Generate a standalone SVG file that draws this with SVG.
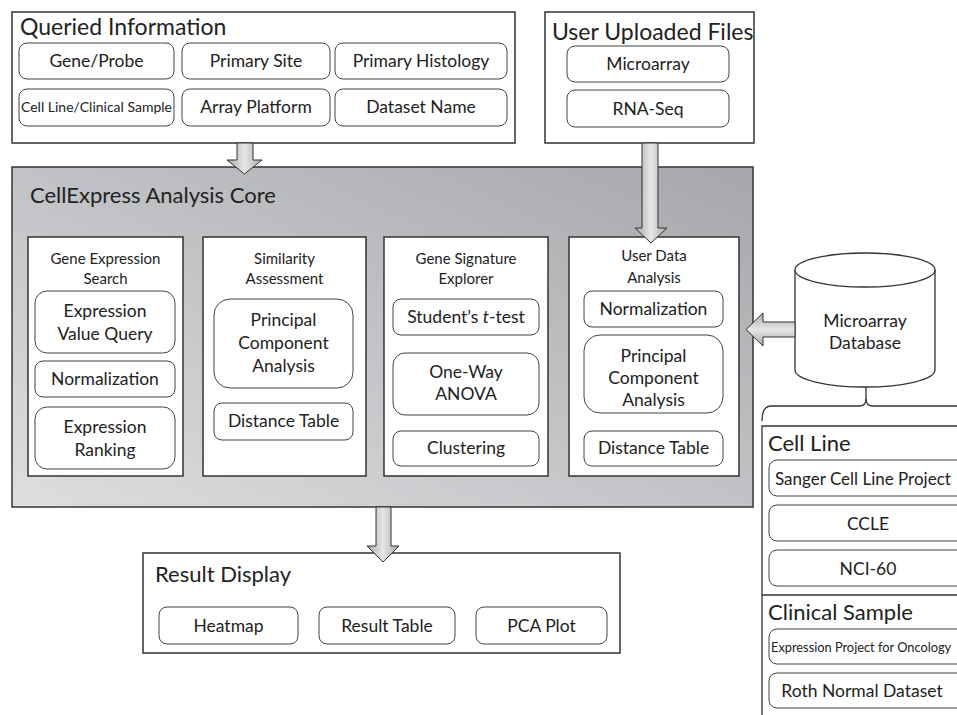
<svg xmlns="http://www.w3.org/2000/svg" width="957" height="715" viewBox="0 0 957 715">
  <defs>
    <linearGradient id="coreFill" x1="1" y1="0" x2="0" y2="1">
      <stop offset="0" stop-color="#a6a7aa"/>
      <stop offset="1" stop-color="#dddee0"/>
    </linearGradient>
    <linearGradient id="arrowV" x1="0" y1="0" x2="1" y2="0">
      <stop offset="0" stop-color="#a9a9ab"/>
      <stop offset="0.5" stop-color="#e6e6e7"/>
      <stop offset="1" stop-color="#a9a9ab"/>
    </linearGradient>
    <linearGradient id="arrowH" x1="0" y1="0" x2="0" y2="1">
      <stop offset="0" stop-color="#a9a9ab"/>
      <stop offset="0.5" stop-color="#e6e6e7"/>
      <stop offset="1" stop-color="#a9a9ab"/>
    </linearGradient>
  </defs>
  <style>
    .frame { fill: #fff; stroke: #333; stroke-width: 1.5; }
    .item { fill: #fff; stroke: #444; stroke-width: 1; }
    .arrow { stroke: #333; stroke-width: 1; }
    .line { fill: none; stroke: #333; stroke-width: 1.3; }
    text { font-family: Lato, "Open Sans", sans-serif; fill: #222; }
    .h1 { font-size: 22px; }
    .h2 { font-size: 15px; text-anchor: middle; }
    .t { font-size: 17.5px; text-anchor: middle; }
    .s { font-size: 14px; text-anchor: middle; }
  </style>

  <!-- Queried Information -->
  <g id="queried-information">
    <rect class="frame" x="12" y="12" width="503" height="131"/>
    <text class="h1" x="20" y="35" style="font-size:23px">Queried Information</text>
    <rect class="item" x="19" y="43" width="155" height="36" rx="8"/>
    <text class="t" x="96.5" y="67">Gene/Probe</text>
    <rect class="item" x="182" y="43" width="148" height="36" rx="8"/>
    <text class="t" x="256" y="67">Primary Site</text>
    <rect class="item" x="335" y="43" width="172" height="36" rx="8"/>
    <text class="t" x="421" y="67">Primary Histology</text>
    <rect class="item" x="19" y="89" width="155" height="37" rx="8"/>
    <text class="s" x="96.5" y="112">Cell Line/Clinical Sample</text>
    <rect class="item" x="182" y="89" width="148" height="37" rx="8"/>
    <text class="t" x="256" y="113">Array Platform</text>
    <rect class="item" x="335" y="89" width="172" height="37" rx="8"/>
    <text class="t" x="421" y="113">Dataset Name</text>
  </g>

  <!-- User Uploaded Files -->
  <g id="user-uploaded-files">
    <rect class="frame" x="545" y="12" width="209" height="131"/>
    <text class="h1" x="552" y="40" style="font-size:23px">User Uploaded Files</text>
    <rect class="item" x="567" y="46" width="162" height="36" rx="8"/>
    <text class="t" x="648" y="70">Microarray</text>
    <rect class="item" x="567" y="90" width="162" height="37" rx="8"/>
    <text class="t" x="648" y="115">RNA-Seq</text>
  </g>

  <!-- CellExpress Analysis Core -->
  <g id="analysis-core">
    <rect x="12" y="167" width="741" height="340" fill="url(#coreFill)" stroke="#333" stroke-width="1.5"/>
    <text class="h1" x="30" y="203">CellExpress Analysis Core</text>
  </g>

  <g id="gene-expression-search">
    <rect class="frame" x="28" y="237" width="155" height="239"/>
    <text class="h2" x="105.5" y="264">Gene Expression</text>
    <text class="h2" x="105.5" y="284">Search</text>
    <rect class="item" x="35" y="291" width="140" height="62" rx="12"/>
    <text class="t" x="105" y="317">Expression</text>
    <text class="t" x="105" y="340">Value Query</text>
    <rect class="item" x="35" y="361" width="140" height="36" rx="8"/>
    <text class="t" x="105" y="385">Normalization</text>
    <rect class="item" x="35" y="407" width="140" height="62" rx="12"/>
    <text class="t" x="105" y="433">Expression</text>
    <text class="t" x="105" y="456">Ranking</text>
  </g>

  <g id="similarity-assessment">
    <rect class="frame" x="203" y="237" width="163" height="239"/>
    <text class="h2" x="284.5" y="264">Similarity</text>
    <text class="h2" x="284.5" y="284">Assessment</text>
    <rect class="item" x="214" y="299" width="139" height="89" rx="16"/>
    <text class="t" x="283.5" y="326">Principal</text>
    <text class="t" x="283.5" y="349">Component</text>
    <text class="t" x="283.5" y="372">Analysis</text>
    <rect class="item" x="214" y="403" width="139" height="37" rx="8"/>
    <text class="t" x="283.5" y="427">Distance Table</text>
  </g>

  <g id="gene-signature-explorer">
    <rect class="frame" x="384" y="237" width="164" height="239"/>
    <text class="h2" x="466" y="264">Gene Signature</text>
    <text class="h2" x="466" y="284">Explorer</text>
    <rect class="item" x="393" y="299" width="146" height="36" rx="8"/>
    <text class="t" x="466" y="323">Student’s <tspan font-style="italic">t</tspan>-test</text>
    <rect class="item" x="393" y="353" width="146" height="62" rx="12"/>
    <text class="t" x="466" y="378">One-Way</text>
    <text class="t" x="466" y="400">ANOVA</text>
    <rect class="item" x="393" y="431" width="146" height="35" rx="8"/>
    <text class="t" x="466" y="454">Clustering</text>
  </g>

  <g id="user-data-analysis">
    <rect class="frame" x="569" y="237" width="170" height="239"/>
    <text class="h2" x="654" y="261">User Data</text>
    <text class="h2" x="654" y="283">Analysis</text>
    <rect class="item" x="584" y="291" width="139" height="36" rx="8"/>
    <text class="t" x="653.5" y="315">Normalization</text>
    <rect class="item" x="584" y="335" width="139" height="78" rx="16"/>
    <text class="t" x="653.5" y="362">Principal</text>
    <text class="t" x="653.5" y="384">Component</text>
    <text class="t" x="653.5" y="406">Analysis</text>
    <rect class="item" x="584" y="431" width="139" height="35" rx="8"/>
    <text class="t" x="653.5" y="454">Distance Table</text>
  </g>

  <!-- Microarray Database -->
  <g id="microarray-database">
    <path d="M795,270 L795,370 A70,17 0 0 0 935,370 L935,270" fill="#fff" stroke="#333" stroke-width="1.3"/>
    <ellipse cx="865" cy="270" rx="70" ry="17" fill="#fff" stroke="#333" stroke-width="1.3"/>
    <text class="t" x="865" y="327">Microarray</text>
    <text class="t" x="865" y="349">Database</text>
  </g>

  <!-- Result Display -->
  <g id="result-display">
    <rect class="frame" x="143" y="553" width="477" height="100"/>
    <text class="h1" x="155" y="582">Result Display</text>
    <rect class="item" x="159" y="607" width="139" height="37" rx="8"/>
    <text class="t" x="228.5" y="632">Heatmap</text>
    <rect class="item" x="319" y="607" width="136" height="37" rx="8"/>
    <text class="t" x="387" y="632">Result Table</text>
    <rect class="item" x="476" y="607" width="131" height="37" rx="8"/>
    <text class="t" x="541.5" y="632">PCA Plot</text>
  </g>

  <!-- Data sources -->
  <g id="cell-line">
    <path class="line" d="M762,715 L762,426 L960,426"/>
    <text class="h1" x="768" y="451">Cell Line</text>
    <rect class="item" x="769" y="460" width="198" height="36" rx="8"/>
    <text x="775" y="485" style="font-size:17px">Sanger Cell Line Project</text>
    <rect class="item" x="769" y="505" width="198" height="36" rx="8"/>
    <text class="t" x="868" y="530">CCLE</text>
    <rect class="item" x="769" y="550" width="198" height="36" rx="8"/>
    <text class="t" x="868" y="575">NCI-60</text>
  </g>

  <g id="clinical-sample">
    <path class="line" d="M762,595 L960,595"/>
    <text class="h1" x="768" y="620">Clinical Sample</text>
    <rect class="item" x="769" y="629" width="198" height="35" rx="8"/>
    <text x="771" y="652" style="font-size:12.8px">Expression Project for Oncology</text>
    <rect class="item" x="769" y="673" width="198" height="35" rx="8"/>
    <text class="t" x="862" y="697">Roth Normal Dataset</text>
  </g>

  <!-- Connectors -->
  <g id="connectors">
    <!-- brace joining the database to its sources -->
    <path class="line" d="M866,387 L866,399 Q866,406 859,406 L771,406 Q762,406 762,421"/>
    <path class="line" d="M866,399 Q866,406 873,406 L960,406"/>
    <!-- queried information into core -->
    <path class="arrow" fill="url(#arrowV)" d="M237,143 L253,143 L253,160 L262,160 L244.5,174 L227,160 L237,160 Z"/>
    <!-- uploaded files into user data analysis -->
    <path class="arrow" fill="url(#arrowV)" d="M642,143 L658,143 L658,228 L667,228 L651,243 L635,228 L642,228 Z"/>
    <!-- database into user data analysis -->
    <path class="arrow" fill="url(#arrowH)" d="M795,322 L763,322 L763,313 L746,329.5 L763,346 L763,337 L795,337 Z"/>
    <!-- core into result display -->
    <path class="arrow" fill="url(#arrowV)" d="M376,507 L391,507 L391,546 L399,546 L383,562 L367,546 L376,546 Z"/>
  </g>
</svg>
